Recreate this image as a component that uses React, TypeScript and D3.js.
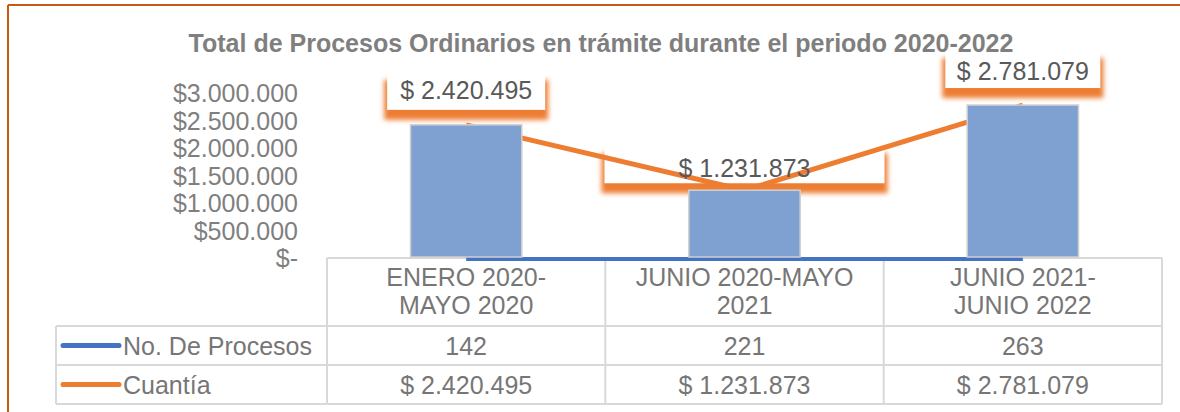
import React from "react";
import * as d3 from "d3";

const categories = ["ENERO 2020-MAYO 2020", "JUNIO 2020-MAYO 2021", "JUNIO 2021-JUNIO 2022"];
const categoryLines = [
  ["ENERO 2020-", "MAYO 2020"],
  ["JUNIO 2020-MAYO", "2021"],
  ["JUNIO 2021-", "JUNIO 2022"],
];
const procesos = [142, 221, 263];
const cuantia = [2420495, 1231873, 2781079];
const yTicks = [0, 500000, 1000000, 1500000, 2000000, 2500000, 3000000];
const seriesNames = ["No. De Procesos", "Cuantía"];
const title = "Total de Procesos Ordinarios en trámite durante el periodo 2020-2022";

const W = 1180;
const H = 412;
const FONT = "'Liberation Sans', Arial, sans-serif";
const BLUE = "#4472C4";
const ORANGE = "#ED7D31";
const GRID = "#D9D9D9";

// layout of data label boxes
const labelBoxes = [
  { w: 158, gap: 15, base: 11 },
  { w: 280, gap: 7, base: 6 },
  { w: 155, gap: 17, base: 8 },
];

const axisLoc = d3.formatLocale({ decimal: ",", thousands: ".", grouping: [3], currency: ["$", ""] });
const labelLoc = d3.formatLocale({ decimal: ",", thousands: ".", grouping: [3], currency: ["$ ", ""] });
const fmtAxis = (v: number) => (v === 0 ? "$-" : axisLoc.format("$,.0f")(v));
const fmtLabel = labelLoc.format("$,.0f");

export default function App() {
  const x = d3.scaleBand<string>().domain(categories).range([327, 1162]).paddingInner(0).paddingOuter(0);
  const y = d3.scaleLinear().domain([0, 3000000]).range([258, 93]);
  const step = x.step();
  const barW = step * 0.4;
  const cx = (i: number) => (x(categories[i]) as number) + step / 2;

  const lineGen = d3
    .line<number>()
    .x((_, i) => cx(i))
    .y((d) => y(d));

  const headerTop = 258;
  const row1 = 326;
  const row2 = 365;
  const row3 = 404;
  const tableLeft = 56;
  const tableRight = 1162;

  return (
    <svg
      width={W}
      height={H}
      style={{ position: "absolute", left: 0, top: 0, background: "#fff" }}
      fontFamily={FONT}
    >
      <defs>
        <filter id="glow" x="-20%" y="-50%" width="140%" height="200%">
          <feGaussianBlur stdDeviation="2.5" />
        </filter>
      </defs>
      <rect x={0} y={0} width={W} height={H} fill="#fff" />
      {/* outer frame */}
      <line x1={8} y1={5} x2={W} y2={5} stroke="#C55A11" strokeWidth={2} />
      <line x1={8} y1={5} x2={8} y2={H} stroke="#C55A11" strokeWidth={2} />

      {/* title */}
      <text x={601} y={52} textAnchor="middle" fontSize={25} fontWeight="bold" fill="#7F7F7F">
        {title}
      </text>

      {/* y axis labels */}
      {yTicks.map((t) => (
        <text key={t} x={298} y={y(t) + 9} textAnchor="end" fontSize={25} fill="#7F7F7F">
          {fmtAxis(t)}
        </text>
      ))}

      {/* data table grid */}
      <g stroke={GRID} strokeWidth={2} fill="none">
        <line x1={327} y1={headerTop} x2={tableRight} y2={headerTop} />
        <line x1={tableLeft} y1={row1} x2={tableRight} y2={row1} />
        <line x1={tableLeft} y1={row2} x2={tableRight} y2={row2} />
        <line x1={tableLeft} y1={row3} x2={tableRight} y2={row3} />
        <line x1={tableLeft} y1={row1} x2={tableLeft} y2={row3} />
        {categories.map((c) => (
          <line key={c} x1={x(c) as number} y1={headerTop} x2={x(c) as number} y2={row3} />
        ))}
        <line x1={tableRight} y1={headerTop} x2={tableRight} y2={row3} />
      </g>

      {/* label boxes (behind line) */}
      {cuantia.map((v, i) => {
        const b = labelBoxes[i];
        const bottom = y(v) - b.gap;
        const top = bottom - 36;
        return (
          <g key={"lb" + i}>
            <rect
              x={cx(i) - b.w / 2 - 3}
              y={top + 6}
              width={b.w + 6}
              height={36 + 4}
              fill={ORANGE}
              filter="url(#glow)"
            />
            <rect x={cx(i) - b.w / 2} y={top} width={b.w} height={36} fill="#fff" />
          </g>
        );
      })}

      {/* orange line */}
      <path d={lineGen(cuantia) as string} fill="none" stroke={ORANGE} strokeWidth={5} strokeLinejoin="round" />

      {/* blue line */}
      <g transform="translate(0,1)">
        <path d={lineGen(procesos) as string} fill="none" stroke={BLUE} strokeWidth={4} />
      </g>

      {/* bars */}
      {cuantia.map((v, i) => (
        <rect
          key={"bar" + i}
          x={cx(i) - barW / 2}
          y={y(v)}
          width={barW}
          height={y(0) - y(v) - 1}
          fill="#7FA1D1"
          stroke="#CFCFCF"
          strokeWidth={1.5}
        />
      ))}

      {/* label texts */}
      {cuantia.map((v, i) => {
        const b = labelBoxes[i];
        const bottom = y(v) - b.gap;
        return (
          <text key={"lt" + i} x={cx(i)} y={bottom - b.base} textAnchor="middle" fontSize={25} fill="#595959">
            {fmtLabel(v)}
          </text>
        );
      })}

      {/* category header */}
      {categoryLines.map((lines, i) => (
        <text key={"cat" + i} x={cx(i)} textAnchor="middle" fontSize={25} fill="#767676">
          {lines.map((l, j) => (
            <tspan key={j} x={cx(i)} y={286 + j * 28}>
              {l}
            </tspan>
          ))}
        </text>
      ))}

      {/* legend keys */}
      {[BLUE, ORANGE].map((c, r) => {
        const mid = r === 0 ? (row1 + row2) / 2 : (row2 + row3) / 2;
        return (
          <g key={"key" + r}>
            <line x1={63} y1={mid} x2={119} y2={mid} stroke={c} strokeWidth={5} strokeLinecap="round" />
            <text x={123} y={mid + 9} fontSize={25} fill="#767676">
              {seriesNames[r]}
            </text>
          </g>
        );
      })}

      {/* table values */}
      {procesos.map((v, i) => (
        <text key={"pv" + i} x={cx(i)} y={(row1 + row2) / 2 + 9} textAnchor="middle" fontSize={25} fill="#767676">
          {v}
        </text>
      ))}
      {cuantia.map((v, i) => (
        <text key={"cv" + i} x={cx(i)} y={(row2 + row3) / 2 + 9} textAnchor="middle" fontSize={25} fill="#767676">
          {fmtLabel(v)}
        </text>
      ))}
    </svg>
  );
}
